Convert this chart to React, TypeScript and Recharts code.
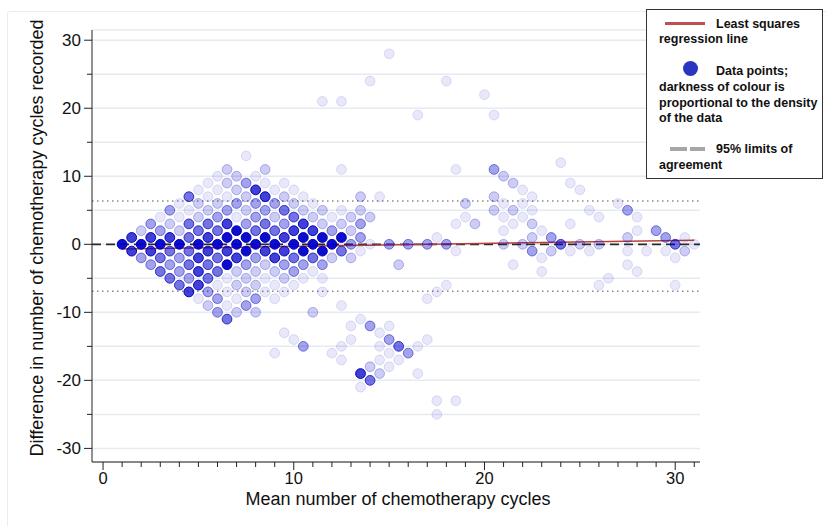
import React from 'react';
import {
	CartesianGrid,
	ReferenceLine,
	Scatter,
	ScatterChart,
	XAxis,
	YAxis,
} from 'recharts';

type Pt = [number, number];

// points grouped by how dark they are drawn (density of the data)
const faintestPoints: Pt[] = [
	[3, 4], [4, 4], [7, 4], [12, 4], [4, 6], [11, 6], [6, -6], [9, -6], [10, -6],
	[4.5, 5], [12.5, 5], [6.5, -5], [8.5, -5], [10.5, -5], [11.5, -5],
	[5.5, 7], [6.5, 7], [10.5, 7], [14.5, 7], [6.5, -7], [8.5, -7], [9.5, -7], [11.5, -7], [17.5, -7],
	[5, 8], [6, 8], [9, 8], [10, 8], [5, -8], [7, -8], [9, -8], [17, -8],
	[5.5, 9], [8.5, 9], [9.5, 9], [6.5, -9], [12.5, -9], [6, 10], [8, 10], [12.5, 11], [18.5, 11], [7.5, 13],
	[11, -4], [23, -4], [28, -4], [14, 0], [31, 0], [17.5, 1], [30.5, 1],
	[13.5, -1], [18.5, -1], [24.5, -1], [25.5, -1], [27.5, -1], [28.5, -1], [29.5, -1],
	[21, 2], [23, 2], [28, 2], [23, -2], [30, -2], [18.5, 3], [21.5, 3], [24.5, 3], [21.5, -3], [27.5, -3],
	[19, 4], [21, 4], [22, 4], [26, 4], [28, 4], [22.5, 5], [25.5, 5], [21, 6], [22, 6], [27, 6],
	[26.5, -5], [18, -6], [26, -6], [30, -6], [22.5, 7], [22, 8], [25, 8], [24.5, 9], [24, 12],
	[16.5, 19], [20.5, 19], [11.5, 21], [12.5, 21], [20, 22], [14, 24], [18, 24], [15, 28],
	[13.5, -11], [13, -12], [15, -12], [9.5, -13], [14.5, -13], [10, -14], [13, -14], [17, -14],
	[12.5, -15], [14.5, -15], [16.5, -15], [9, -16], [12, -16], [15, -16],
	[12.5, -17], [14.5, -17], [15.5, -17], [15, -18], [16.5, -19], [13.5, -21],
	[17.5, -23], [18.5, -23], [17.5, -25],
];

const faintPoints: Pt[] = [
	[2, 2], [4, 2], [13, 2], [12, -2], [13, -2], [3.5, 3], [11.5, 3], [12.5, 3], [8.5, -3],
	[5, 4], [9, 4], [11, 4], [13, 4], [14, 4], [7, -4], [8, -4], [9, -4],
	[5.5, 5], [7.5, 5], [10.5, 5], [11.5, 5], [13.5, 5], [7.5, -5], [9.5, -5],
	[5, 6], [6, 6], [10, 6], [7, -6], [8, -6], [7.5, 7], [9.5, 7], [13.5, 7], [7.5, -7],
	[7, 8], [6.5, 9], [7, 10], [6.5, 11], [8.5, 11], [5.5, -9], [7, -10], [8, -10], [11, -10],
	[22.5, 1], [27.5, 1], [23.5, -1], [30.5, -1], [21, 0], [22, 0], [25, 0], [26, 0],
	[19.5, 3], [22.5, 3], [20.5, 5], [21.5, 5], [19, 6], [20.5, 7], [21.5, 9], [21, 10],
	[15.5, -3], [14, -18], [14.5, -19],
];

const lightPoints: Pt[] = [
	[3, 2], [12, 2], [2, -2], [4, -2], [8, -2], [2.5, 3], [7.5, 3], [9.5, 3], [13.5, 3],
	[2.5, -3], [3.5, -3], [7.5, -3], [9.5, -3], [10.5, -3], [11.5, -3],
	[6, 4], [8, 4], [4, -4], [10, -4], [3.5, 5], [6.5, 5], [8.5, 5], [4.5, -5],
	[7, 6], [8, 6], [9, 6], [7.5, 9], [5.5, -7], [6, -8], [8, -8], [7.5, -9], [6, -10],
	[13, 0], [15, 0], [16, 0], [17, 0], [18, 0], [13.5, 1], [23.5, 1], [29.5, 1], [22.5, -1],
	[29, 2], [27.5, 5], [20.5, 11], [14, -12], [15, -14], [10.5, -15], [16, -16],
];

const mediumPoints: Pt[] = [
	[4.5, 1], [3.5, -1], [4.5, -1], [12.5, -1], [5, 2], [6, 2], [8, 2], [9, 2],
	[3, -2], [6, -2], [10, -2], [11, -2], [4.5, 3], [5.5, 3], [8.5, 3], [4.5, -3], [5.5, -3],
	[10, 4], [3, -4], [6, -4], [9.5, 5], [3.5, -5], [5.5, -5], [4, -6], [4.5, 7], [6.5, -11],
	[24, 0], [30, 0], [14, -20], [15.5, -15],
];

const darkPoints: Pt[] = [
	[1.5, 1], [2.5, 1], [3.5, 1], [5.5, 1], [9.5, 1], [1.5, -1], [2.5, -1], [5.5, -1],
	[6.5, -1], [8.5, -1], [9.5, -1], [10, 2], [11, 2], [5, -2], [7, -2], [9, -2],
	[6.5, 3], [10.5, 3], [5, -4], [5, -6], [4.5, -7], [8.5, 7], [8, 8], [13.5, -19],
];

const darkestPoints: Pt[] = [
	[1, 0], [2, 0], [3, 0], [4, 0], [5, 0], [6, 0], [7, 0], [8, 0], [9, 0], [10, 0], [11, 0], [12, 0],
	[6.5, 1], [7.5, 1], [8.5, 1], [10.5, 1], [11.5, 1], [12.5, 1],
	[7.5, -1], [10.5, -1], [11.5, -1], [7, 2], [6.5, -3],
];

const regressionEnds = [
	{ x: 1, y: -0.69 },
	{ x: 31, y: 0.6 },
];
const upperLimit = 6.35;
const lowerLimit = -6.9;

const xTicks = [
	0, 1, 2, 3, 4, 5, 6, 7, 8, 9, 10, 11, 12, 13, 14, 15,
	16, 17, 18, 19, 20, 21, 22, 23, 24, 25, 26, 27, 28, 29, 30, 31,
];
const yTicks = [-30, -25, -20, -15, -10, -5, 0, 5, 10, 15, 20, 25, 30];

const densityLayers = [
	{ name: 'faintest', opacity: 0.09, points: faintestPoints },
	{ name: 'faint', opacity: 0.2, points: faintPoints },
	{ name: 'light', opacity: 0.36, points: lightPoints },
	{ name: 'medium', opacity: 0.55, points: mediumPoints },
	{ name: 'dark', opacity: 0.75, points: darkPoints },
	{ name: 'darkest', opacity: 0.95, points: darkestPoints },
];

const FONT = '"Liberation Sans", Arial, Helvetica, sans-serif';

const XTick = (props: any) => {
	const { x, y, payload } = props;
	const major = payload.value % 10 === 0;
	return (
		<g>
			<line x1={x} x2={x} y1={y} y2={y + (major ? 8 : 5)} stroke="#222" />
			{major && (
				<text x={x} y={y + 22} textAnchor="middle" fontSize={16.5} fill="#111" fontFamily={FONT}>
					{payload.value}
				</text>
			)}
		</g>
	);
};

const YTick = (props: any) => {
	const { x, y, payload } = props;
	const major = payload.value % 10 === 0;
	return (
		<g>
			<line x1={x - (major ? 8 : 5)} x2={x} y1={y} y2={y} stroke="#222" />
			{major && (
				<text x={x - 11} y={y + 6} textAnchor="end" fontSize={17} fill="#111" fontFamily={FONT}>
					{payload.value}
				</text>
			)}
		</g>
	);
};

const dotShape = (opacity: number) => (p: any) => (
	<circle
		cx={p.cx}
		cy={p.cy}
		r={4.9}
		fill="#0000cc"
		fillOpacity={opacity}
		stroke="#0000b4"
		strokeOpacity={Math.min(1, opacity * 1.3)}
		strokeWidth={1}
	/>
);

const legendText: React.CSSProperties = {
	position: 'absolute',
	fontSize: 12.5,
	fontWeight: 'bold',
	lineHeight: '16px',
	color: '#111',
	whiteSpace: 'nowrap',
};

const App = () => {
	return (
		<div
			style={{
				position: 'absolute',
				left: 0,
				top: 0,
				width: 826,
				height: 526,
				overflow: 'hidden',
				background: '#fff',
				fontFamily: FONT,
			}}>
			<div
				style={{
					position: 'absolute',
					left: 7,
					top: 11,
					width: 840,
					height: 540,
					border: '1px solid #e6edf3',
					borderRadius: 3,
				}}
			/>
			<div style={{ position: 'absolute', left: 0, top: 0 }}>
				<ScatterChart
					width={826}
					height={526}
					margin={{ top: 30, right: 126, left: 0, bottom: 0 }}>
					<CartesianGrid
						horizontal
						vertical={false}
						stroke="#e4ebf1"
						strokeWidth={1.5}
					/>
					<XAxis
						type="number"
						dataKey="x"
						domain={[-0.58, 31.3]}
						ticks={xTicks}
						interval={0}
						allowDataOverflow
						height={64}
						tickSize={0}
						tickMargin={0}
						tickLine={false}
						axisLine={{ stroke: '#222' }}
						tick={<XTick />}
					/>
					<YAxis
						type="number"
						dataKey="y"
						domain={[-32, 31.5]}
						ticks={yTicks}
						interval={0}
						allowDataOverflow
						width={92}
						tickSize={0}
						tickMargin={0}
						tickLine={false}
						axisLine={{ stroke: '#222' }}
						tick={<YTick />}
					/>
					{densityLayers.map((layer) => (
						<Scatter
							key={layer.name}
							name={layer.name}
							data={layer.points.map(([x, y]) => ({ x, y }))}
							shape={dotShape(layer.opacity)}
							isAnimationActive={false}
						/>
					))}
					<ReferenceLine
						y={upperLimit}
						stroke="#8a8a8a"
						strokeWidth={1.5}
						strokeDasharray="1.5 3.5"
					/>
					<ReferenceLine
						y={lowerLimit}
						stroke="#8a8a8a"
						strokeWidth={1.5}
						strokeDasharray="1.5 3.5"
					/>
					<ReferenceLine y={0} stroke="#2a2a2a" strokeWidth={1.7} strokeDasharray="9 5" />
					<ReferenceLine
						segment={regressionEnds}
						stroke="#b8403c"
						strokeWidth={1.6}
					/>
				</ScatterChart>
			</div>

			<div
				style={{
					position: 'absolute',
					left: 37,
					top: 238,
					transform: 'translate(-50%, -50%) rotate(-90deg)',
					fontSize: 18,
					color: '#111',
					whiteSpace: 'nowrap',
				}}>
				Difference in number of chemotherapy cycles recorded
			</div>
			<div
				style={{
					position: 'absolute',
					left: 398,
					top: 499,
					transform: 'translate(-50%, -50%)',
					fontSize: 18,
					lineHeight: '20px',
					color: '#111',
					whiteSpace: 'nowrap',
				}}>
				Mean number of chemotherapy cycles
			</div>

			{/* legend */}
			<div
				style={{
					position: 'absolute',
					left: 646,
					top: 9,
					width: 177,
					height: 170,
					border: '1.5px solid #333',
					boxSizing: 'border-box',
					background: '#fff',
				}}>
				<div style={{ position: 'absolute', left: 18, top: 12, width: 40, height: 3, background: '#c0504d' }} />
				<div style={{ ...legendText, left: 69, top: 5.5 }}>Least squares</div>
				<div style={{ ...legendText, left: 12, top: 20.5 }}>regression line</div>
				<div
					style={{
						position: 'absolute',
						left: 35.5,
						top: 51,
						width: 15,
						height: 15,
						borderRadius: '50%',
						background: '#2a35c2',
					}}
				/>
				<div style={{ ...legendText, left: 69, top: 52.5 }}>Data points;</div>
				<div style={{ ...legendText, left: 12, top: 68.5 }}>darkness of colour is</div>
				<div style={{ ...legendText, left: 12, top: 84.5 }}>proportional to the density</div>
				<div style={{ ...legendText, left: 12, top: 99.5 }}>of the data</div>
				<div style={{ position: 'absolute', left: 23, top: 137, width: 17, height: 3.5, background: '#a6a6a6' }} />
				<div style={{ position: 'absolute', left: 43, top: 137, width: 15, height: 3.5, background: '#a6a6a6' }} />
				<div style={{ ...legendText, left: 69, top: 130.5 }}>95% limits of</div>
				<div style={{ ...legendText, left: 12, top: 146.5 }}>agreement</div>
			</div>
		</div>
	);
};

export default App;
